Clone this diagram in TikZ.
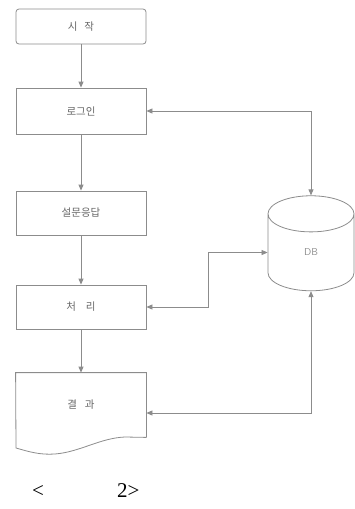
\documentclass[tikz,border=0pt]{standalone}
\usepackage{fontspec}
\setmainfont{Liberation Serif}
\newfontfamily\kofont{Noto Sans CJK KR}
\usetikzlibrary{shapes.geometric,arrows.meta}

\begin{document}
\begin{tikzpicture}[
        x=1pt, y=-1pt,
        line_gray/.style={draw=black!45, line width=0.8pt},
        step_box/.style={line_gray, rectangle, minimum width=130pt, minimum height=44pt,
            inner sep=0pt, font=\kofont\fontsize{10.5}{11}\selectfont, text=black!60},
        flow_arrow/.style={line_gray, -{Triangle[length=6pt,width=5pt]}},
        db_arrow/.style={line_gray, {Triangle[length=6pt,width=5pt]}-{Triangle[length=6pt,width=5pt]}}
    ]
        \useasboundingbox (0,0) rectangle (355,509);

        % 흐름 단계
        \node[step_box, rounded corners=3pt, minimum height=35pt] (start) at (81,26.5) {시\hspace{7pt}작};
        \node[step_box, minimum height=46pt] (login) at (81,111) {로그인};
        \node[step_box] (survey) at (81,213) {설문응답};
        \node[step_box] (proc) at (81,307) {처\hspace{10pt}리};
        % 결과 - 문서 모양
        \node[step_box, draw=none, minimum height=64pt] (result) at (81,405) {결\hspace{8pt}과};
        \draw[line_gray] (result.south east) -- (result.north east) -- (result.north west)
            -- (16,448) .. controls (30,452) and (40,455) .. (55,454)
            .. controls (80,452) and (100,438) .. (125,437) -- (result.south east);

        % DB
        \node[line_gray, cylinder, shape border rotate=90, aspect=2.6,
            minimum width=86pt, minimum height=95pt, inner sep=0pt,
            font=\sffamily\fontsize{10}{11}\selectfont, text=black!45] (db) at (311,252.5) {DB};

        % 연결선
        \draw[flow_arrow] (start) -- (login);
        \draw[flow_arrow] (login) -- (survey);
        \draw[flow_arrow] (survey) -- (proc);
        \draw[flow_arrow] (proc) -- (result);
        \draw[db_arrow] (login.east) -| (db.north);
        \draw[db_arrow] (proc.east) -- ++(62,0) |- (db.west);
        \draw[db_arrow] ([yshift=-8pt]result.east) -| (db.south);

        % 그림 번호
        \node[anchor=base west, font=\fontsize{21}{24}\selectfont, inner sep=0pt] (caption)
            at (32,497) {<\hspace{73pt}2>};
    \end{tikzpicture}
\end{document}
